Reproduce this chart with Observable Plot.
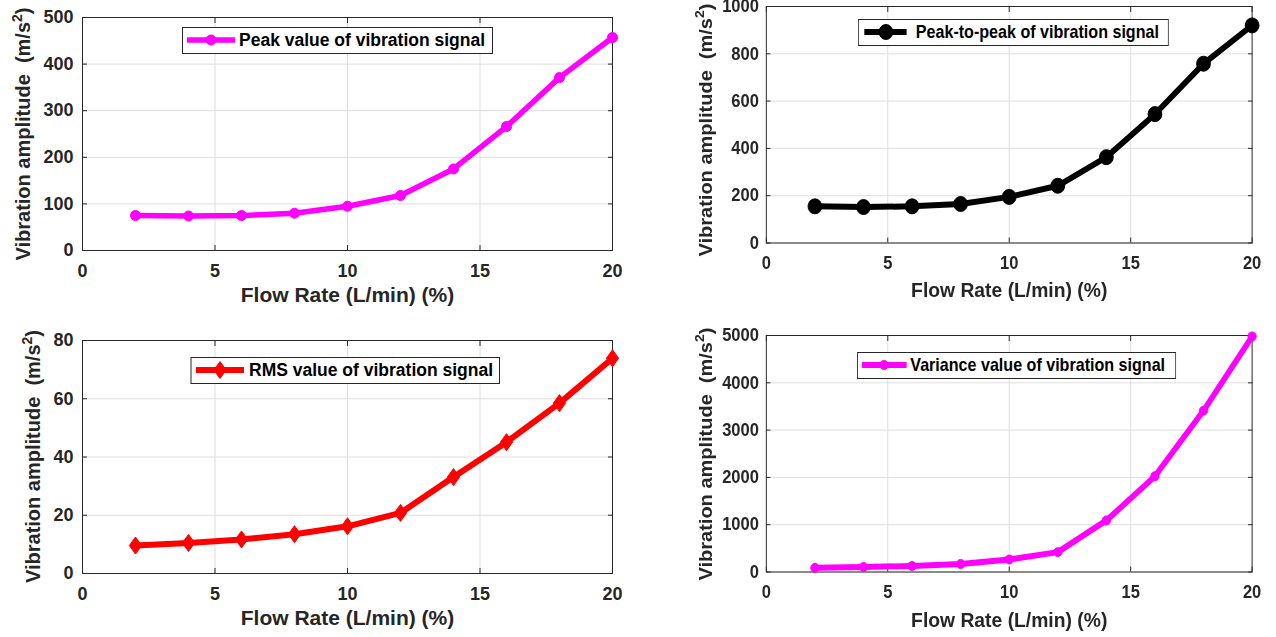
<!DOCTYPE html>
<html>
<head>
<meta charset="utf-8">
<script src="https://cdn.jsdelivr.net/npm/d3@7"></script>
<script src="https://cdn.jsdelivr.net/npm/@observablehq/plot@0.6"></script>
<style>
  html, body { margin: 0; padding: 0; background: #fff; overflow: hidden; }
  #fig { position: relative; width: 1276px; height: 637px; background: #fff; overflow: hidden; }
  .panel { position: absolute; }
  .panel svg { max-width: none !important; display: block; }
  .panel.narrow { transform: scaleX(0.92); transform-origin: 0 0; }
</style>
</head>
<body>
<div id="fig"></div>
<script>
// Vibration statistics against flow rate
const flowRate = [2, 4, 6, 8, 10, 12, 14, 16, 18, 20];
const peakValue = [75, 74, 75, 80, 95, 118, 175, 266, 371, 457];
const peakToPeak = [155, 152, 155, 165, 195, 242, 363, 545, 758, 920];
const rmsValue = [9.6, 10.5, 11.7, 13.5, 16.2, 20.8, 33.1, 45.1, 58.5, 73.9];
const varianceValue = [88, 105, 128, 170, 265, 420, 1090, 2025, 3410, 4980];

const xTicks = [0, 5, 10, 15, 20];
const peakTicks = [0, 100, 200, 300, 400, 500];
const p2pTicks = [0, 200, 400, 600, 800, 1000];
const rmsTicks = [0, 20, 40, 60, 80];
const varTicks = [0, 1000, 2000, 3000, 4000, 5000];

const seriesNames = [
  "Peak value of vibration signal",
  "Peak-to-peak of vibration signal",
  "RMS value of vibration signal",
  "Variance value of vibration signal"
];
const xLabel = "Flow Rate (L/min) (%)";
const yLabelParts = ["Vibration amplitude\u00a0 (m/s", "2", ")"];

const FONT = "'Liberation Sans', Arial, Helvetica, sans-serif";
const INK = "#262626";

// MATLAB-style diamond: taller than wide
const tallDiamond = {
  draw(context, size) {
    const r = Math.sqrt(size / Math.PI);
    context.moveTo(0, -r);
    context.lineTo(r * 0.72, 0);
    context.lineTo(0, r);
    context.lineTo(-r * 0.72, 0);
    context.closePath();
  }
};

const panels = [
  {
    values: peakValue, ticks: peakTicks, name: seriesNames[0],
    color: "#ff00ff", lineWidth: 5.5, r: 5, symbol: "circle",
    box: {left: 0, top: 0, width: 638, height: 318, narrow: false},
    margin: {top: 17, right: 26, bottom: 68, left: 82},
    yPad: 9, xLabelDy: 45, yLabelX: 30, yLabelY: 134,
    legend: {x0: 182, x1: 492, y0: 27, y1: 53, l0: 187, l1: 235, m: 211, tx: 239}
  },
  {
    values: peakToPeak, ticks: p2pTicks, name: seriesNames[1],
    color: "#000000", lineWidth: 6, r: 7.5, symbol: "circle",
    box: {left: 638, top: 0, width: 694, height: 318, narrow: true},
    margin: {top: 6, right: 27, bottom: 75.5, left: 139},
    yPad: 8, xLabelDy: 47.5, yLabelX: 80, yLabelY: 130,
    legend: {x0: 239, x1: 576, y0: 19, y1: 45, l0: 246, l1: 292, m: 269.5, tx: 302}
  },
  {
    values: rmsValue, ticks: rmsTicks, name: seriesNames[2],
    color: "#ff0000", lineWidth: 6, r: 8.5, symbol: tallDiamond,
    box: {left: 0, top: 318, width: 638, height: 319, narrow: false},
    margin: {top: 22, right: 26, bottom: 64, left: 82},
    yPad: 9, xLabelDy: 45, yLabelX: 40, yLabelY: 138.5,
    legend: {x0: 190.5, x1: 499, y0: 39, y1: 65, l0: 196, l1: 244, m: 220, tx: 249}
  },
  {
    values: varianceValue, ticks: varTicks, name: seriesNames[3],
    color: "#ff00ff", lineWidth: 6, r: 4.5, symbol: "circle",
    box: {left: 638, top: 318, width: 694, height: 319, narrow: true},
    margin: {top: 17, right: 27, bottom: 65.5, left: 139},
    yPad: 8, xLabelDy: 48.5, yLabelX: 80, yLabelY: 136,
    legend: {x0: 238, x1: 584, y0: 34, y1: 60, l0: 243.5, l1: 292, m: 267.5, tx: 296}
  }
];

function drawPanel(cfg) {
  const data = flowRate.map((x, i) => ({x, y: cfg.values[i]}));
  const ticks = cfg.ticks;
  const plot = Plot.plot({
    width: cfg.box.width,
    height: cfg.box.height,
    marginTop: cfg.margin.top,
    marginRight: cfg.margin.right,
    marginBottom: cfg.margin.bottom,
    marginLeft: cfg.margin.left,
    style: {fontFamily: FONT, fontSize: "18px", fontWeight: "bold", color: INK, background: "transparent", overflow: "visible"},
    x: {domain: [0, 20], label: null},
    y: {domain: [ticks[0], ticks[ticks.length - 1]], label: null},
    marks: [
      Plot.gridX(xTicks, {stroke: "#dedede", strokeOpacity: 1}),
      Plot.gridY(ticks, {stroke: "#dedede", strokeOpacity: 1}),
      Plot.axisX(xTicks, {tickSize: 0, tickPadding: 13.5, tickFormat: "d", label: null, fill: INK}),
      Plot.axisY(ticks, {tickSize: 0, tickPadding: cfg.yPad, tickFormat: "d", label: null, fill: INK}),
      Plot.axisX(xTicks, {anchor: "bottom", tickSize: -5, text: null, label: null, stroke: INK}),
      Plot.axisX(xTicks, {anchor: "top", tickSize: -5, text: null, label: null, stroke: INK}),
      Plot.axisY(ticks, {anchor: "left", tickSize: -5, text: null, label: null, stroke: INK}),
      Plot.axisY(ticks, {anchor: "right", tickSize: -5, text: null, label: null, stroke: INK}),
      Plot.frame({stroke: INK, strokeOpacity: 1}),
      Plot.line(data, {x: "x", y: "y", stroke: cfg.color, strokeWidth: cfg.lineWidth, strokeLinejoin: "round"}),
      Plot.dot(data, {x: "x", y: "y", r: cfg.r, fill: cfg.color, stroke: cfg.color, strokeWidth: 1, symbol: cfg.symbol}),
      Plot.text([xLabel], {text: d => d, frameAnchor: "bottom", lineAnchor: "middle", dy: cfg.xLabelDy, fontSize: 21, fontWeight: "bold", fill: INK})
    ]
  });

  const svg = d3.select(plot);

  // y-axis title with superscript exponent
  const yt = svg.append("text")
    .attr("transform", `translate(${cfg.yLabelX},${cfg.yLabelY}) rotate(-90)`)
    .attr("text-anchor", "middle")
    .attr("font-family", FONT)
    .attr("font-size", 20)
    .attr("font-weight", "bold")
    .attr("fill", INK);
  yt.append("tspan").text(yLabelParts[0]);
  yt.append("tspan").attr("dy", -8).attr("font-size", 14).text(yLabelParts[1]);
  yt.append("tspan").attr("dy", 8).text(yLabelParts[2]);

  // legend box
  const L = cfg.legend;
  const cy = (L.y0 + L.y1) / 2;
  const g = svg.append("g");
  g.append("rect")
    .attr("x", L.x0 + 0.5).attr("y", L.y0 + 0.5)
    .attr("width", L.x1 - L.x0).attr("height", L.y1 - L.y0)
    .attr("fill", "#fff").attr("stroke", INK).attr("stroke-width", 1);
  g.append("line")
    .attr("x1", L.l0).attr("x2", L.l1).attr("y1", cy).attr("y2", cy)
    .attr("stroke", cfg.color).attr("stroke-width", cfg.lineWidth);
  if (cfg.symbol === tallDiamond) {
    const p = d3.path();
    tallDiamond.draw(p, Math.PI * cfg.r * cfg.r);
    g.append("path").attr("d", p.toString())
      .attr("transform", `translate(${L.m},${cy})`)
      .attr("fill", cfg.color).attr("stroke", cfg.color);
  } else {
    g.append("circle").attr("cx", L.m).attr("cy", cy).attr("r", cfg.r)
      .attr("fill", cfg.color).attr("stroke", cfg.color);
  }
  g.append("text")
    .attr("x", L.tx).attr("y", cy)
    .attr("dy", "0.36em")
    .attr("text-anchor", "start")
    .attr("font-family", FONT)
    .attr("font-size", 17.5)
    .attr("font-weight", "bold")
    .attr("fill", "#000")
    .text(cfg.name);

  const holder = document.createElement("div");
  holder.className = "panel" + (cfg.box.narrow ? " narrow" : "");
  holder.style.left = cfg.box.left + "px";
  holder.style.top = cfg.box.top + "px";
  holder.style.width = cfg.box.width + "px";
  holder.style.height = cfg.box.height + "px";
  holder.appendChild(plot);
  document.getElementById("fig").appendChild(holder);
}

panels.forEach(drawPanel);
</script>
</body>
</html>
